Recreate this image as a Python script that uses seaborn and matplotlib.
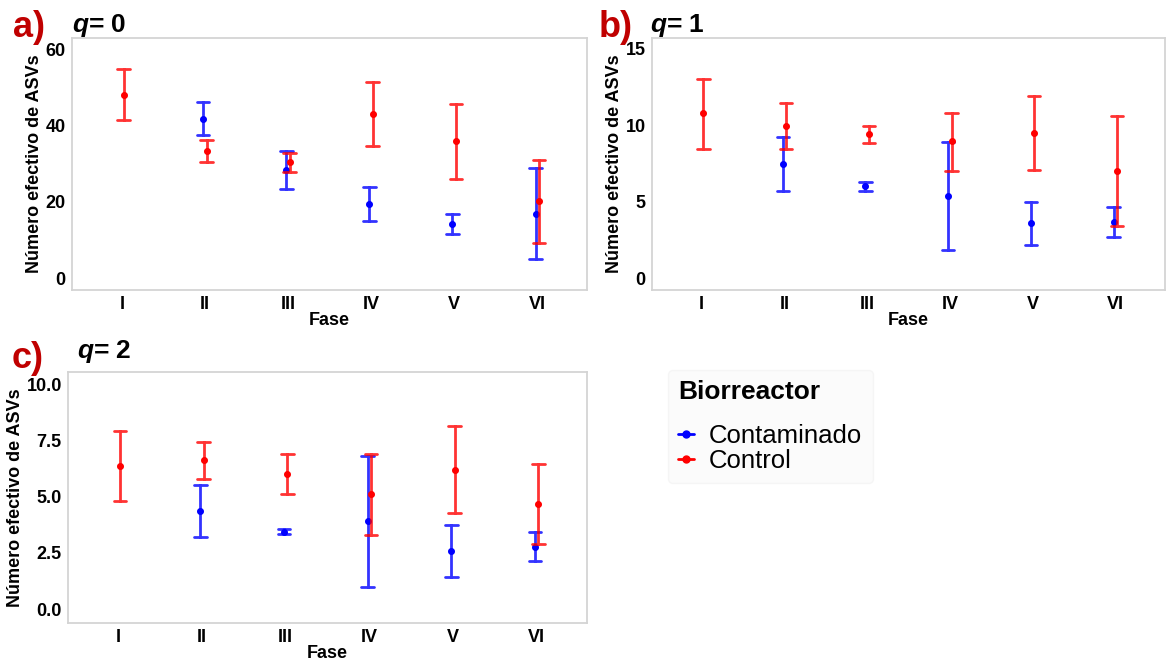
import numpy as np
import pandas as pd
import matplotlib
matplotlib.use("Agg")
import matplotlib.pyplot as plt
from matplotlib.lines import Line2D
import seaborn as sns

fases = ["I", "II", "III", "IV", "V", "VI"]
grupos = ["Contaminado", "Control"]
colores = {"Contaminado": "#0000FF", "Control": "#FF0000"}

# q = 0
q0_cont_mean = [np.nan, 41.8, 28.3, 19.5, 14.1, 16.9]
q0_cont_low = [np.nan, 37.5, 23.3, 15.1, 11.5, 5.1]
q0_cont_high = [np.nan, 46.2, 33.4, 24.0, 16.7, 28.8]
q0_ctrl_mean = [48.1, 33.3, 30.3, 43.0, 35.8, 20.1]
q0_ctrl_low = [41.4, 30.3, 27.8, 34.7, 26.1, 9.3]
q0_ctrl_high = [54.8, 36.3, 32.8, 51.4, 45.5, 31.0]

# q = 1
q1_cont_mean = [np.nan, 7.50, 6.00, 5.38, 3.60, 3.68]
q1_cont_low = [np.nan, 5.71, 5.73, 1.83, 2.18, 2.68]
q1_cont_high = [np.nan, 9.27, 6.28, 8.94, 5.01, 4.67]
q1_ctrl_mean = [10.79, 9.98, 9.42, 8.96, 9.48, 7.02]
q1_ctrl_low = [8.48, 8.48, 8.87, 7.04, 7.09, 3.44]
q1_ctrl_high = [13.04, 11.47, 9.94, 10.84, 11.90, 10.60]

# q = 2
q2_cont_mean = [np.nan, 4.35, 3.44, 3.90, 2.57, 2.76]
q2_cont_low = [np.nan, 3.20, 3.34, 0.97, 1.42, 2.12]
q2_cont_high = [np.nan, 5.52, 3.56, 6.83, 3.74, 3.43]
q2_ctrl_mean = [6.37, 6.63, 6.02, 5.12, 6.21, 4.68]
q2_ctrl_low = [4.80, 5.81, 5.12, 3.31, 4.26, 2.89]
q2_ctrl_high = [7.92, 7.44, 6.89, 6.89, 8.14, 6.45]

paneles = [
    ("a)", "0", (q0_cont_low, q0_cont_mean, q0_cont_high), (q0_ctrl_low, q0_ctrl_mean, q0_ctrl_high)),
    ("b)", "1", (q1_cont_low, q1_cont_mean, q1_cont_high), (q1_ctrl_low, q1_ctrl_mean, q1_ctrl_high)),
    ("c)", "2", (q2_cont_low, q2_cont_mean, q2_cont_high), (q2_ctrl_low, q2_ctrl_mean, q2_ctrl_high)),
]


def to_long(cont, ctrl):
    rows = []
    for grupo, (lo, me, hi) in zip(grupos, [cont, ctrl]):
        for i, f in enumerate(fases):
            for v in (lo[i], me[i], hi[i]):
                if not np.isnan(v):
                    rows.append({"Fase": f, "Biorreactor": grupo, "valor": v})
    return pd.DataFrame(rows)


sns.set_style("white")
plt.rcParams["font.family"] = ["Liberation Sans", "DejaVu Sans"]
plt.rcParams["text.color"] = "black"
plt.rcParams["axes.labelcolor"] = "black"
plt.rcParams["xtick.labelcolor"] = "black"
plt.rcParams["ytick.labelcolor"] = "black"
plt.rcParams["mathtext.fontset"] = "custom"
plt.rcParams["mathtext.it"] = "Liberation Sans:italic:bold"

fig = plt.figure(figsize=(11.67, 6.62), dpi=100)
W, H = 1167, 662
boxes = [(72, 38, 587, 290), (652, 38, 1165, 290), (68, 372, 587, 623)]
ylims = [(-3.1, 62.9), (-0.78, 15.72), (-0.62, 10.55)]
yticks = [[0, 20, 40, 60], [0, 5, 10, 15], [0, 2.5, 5, 7.5, 10]]
letter_pos = [(13, 37), (599, 37), (12, 368)]
q_pos = [(72, 32), (650, 32), (77, 358)]

for k, (letra, qv, cont, ctrl) in enumerate(paneles):
    x0, y0, x1, y1 = boxes[k]
    ax = fig.add_axes([x0 / W, 1 - y1 / H, (x1 - x0) / W, (y1 - y0) / H])
    df = to_long(cont, ctrl)
    sns.pointplot(
        data=df, x="Fase", y="valor", hue="Biorreactor",
        order=fases, hue_order=grupos, palette=colores,
        estimator="median", errorbar=lambda v: (v.min(), v.max()),
        dodge=0.04, linestyle="none", markers="o", markersize=3,
        capsize=0.15, err_kws={"linewidth": 2, "alpha": 0.8},
        legend=False, ax=ax,
    )
    ax.set_xlim(-0.6, 5.6)
    ax.set_ylim(*ylims[k])
    ax.set_yticks(yticks[k])
    if k == 2:
        ax.set_yticklabels([f"{t:.1f}" for t in yticks[k]])
    ax.set_xlabel("Fase", fontsize=13, fontweight="bold", labelpad=-1)
    ax.set_ylabel("Número efectivo de ASVs", fontsize=13, fontweight="bold", labelpad=2)
    ax.tick_params(axis="both", labelsize=13, length=3, width=0.8, color="#BBBBBB", pad=1.5)
    for lab in ax.get_xticklabels() + ax.get_yticklabels():
        lab.set_fontweight("bold")
    for s in ax.spines.values():
        s.set_color("#D4D4D4")
        s.set_linewidth(1.3)
    fig.text(letter_pos[k][0] / W, 1 - letter_pos[k][1] / H, letra,
             color="#C00000", fontsize=26, fontweight="bold", va="baseline")
    fig.text(q_pos[k][0] / W, 1 - q_pos[k][1] / H, r"$q$= " + qv,
             fontsize=19, fontweight="bold", va="baseline")

handles = [Line2D([0], [0], color=colores[g], marker="o", markersize=5, linewidth=2) for g in grupos]
leg = fig.legend(handles, grupos, title="Biorreactor", loc="upper left",
                 bbox_to_anchor=(668 / W, 1 - 370 / H), fontsize=18.5,
                 title_fontproperties={"weight": "bold", "size": 19},
                 frameon=True, facecolor="#FBFBFB", edgecolor="#F4F4F4",
                 handlelength=0.6, handletextpad=0.6, labelspacing=0.05,
                 alignment="left", borderpad=0.4, borderaxespad=0)
leg._legend_box.sep = 14

fig.savefig("out.png", dpi=100)
